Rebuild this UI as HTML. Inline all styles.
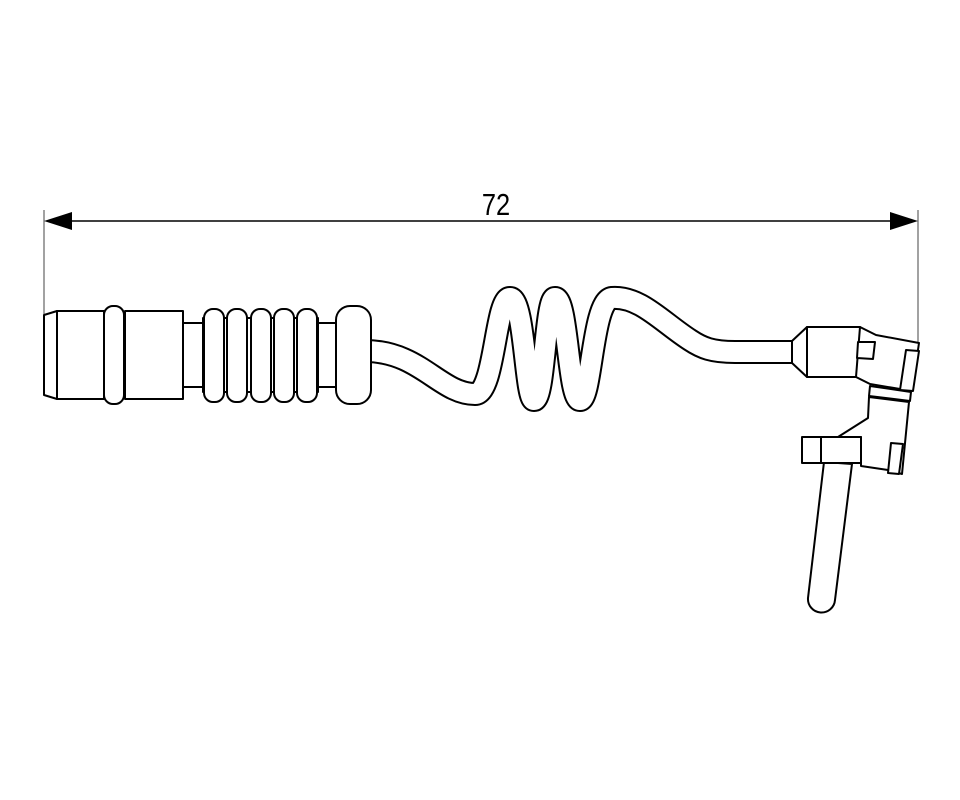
<!DOCTYPE html>
<html><head><meta charset="utf-8"><style>html,body{margin:0;padding:0;background:#fff}svg{display:block}</style></head>
<body>
<svg width="960" height="800" viewBox="0 0 960 800" xmlns="http://www.w3.org/2000/svg">
<g fill="none" stroke="#000" stroke-width="1">
<line x1="44" y1="210" x2="44" y2="314" stroke="#444"/>
<line x1="918" y1="210" x2="918" y2="344" stroke="#444"/>
<line x1="50" y1="221" x2="912" y2="221" stroke-width="1.5"/>
</g>
<polygon points="44,221 72,212 72,230" fill="#000"/>
<polygon points="918,221 890,212 890,230" fill="#000"/>
<text x="0" y="0" font-family="Liberation Sans, sans-serif" font-size="31" text-anchor="middle" transform="translate(496,215) scale(0.82,1)">72</text>

<!-- cable -->
<path d="M365,351 C420,351 440,394 475,394 C495,394 495,298 510,298 C525,298 525,400 534,400 C545,400 545,298 555,298 C568,298 568,400 580,400 C592,400 592,300 612,298 C640,296 662,322 690,340 C702,348 712,352 735,352 L796,352" fill="none" stroke="#000" stroke-width="24"/>
<path d="M365,351 C420,351 440,394 475,394 C495,394 495,298 510,298 C525,298 525,400 534,400 C545,400 545,298 555,298 C568,298 568,400 580,400 C592,400 592,300 612,298 C640,296 662,322 690,340 C702,348 712,352 735,352 L796,352" fill="none" stroke="#fff" stroke-width="20"/>

<g fill="#fff" stroke="#000" stroke-width="2" stroke-linejoin="round">
<!-- left connector -->
<polygon points="44,315 57,311 57,399 44,395"/>
<rect x="57" y="311" width="47" height="88"/>
<rect x="104" y="306" width="20" height="98" rx="9"/>
<rect x="125" y="311" width="58" height="88"/>
<rect x="183" y="323" width="20" height="64"/>
<rect x="203" y="318" width="115" height="74"/>
<rect x="204" y="309" width="20" height="93" rx="9"/>
<rect x="227" y="309" width="20" height="93" rx="9"/>
<rect x="251" y="309" width="20" height="93" rx="9"/>
<rect x="274" y="309" width="20" height="93" rx="9"/>
<rect x="297" y="309" width="20" height="93" rx="9"/>
<rect x="318" y="323" width="18" height="64"/>
<rect x="336" y="306" width="35" height="98" rx="14"/>

<!-- right sensor -->
<polygon points="792,341 807,327 807,377 792,363"/>
<rect x="807" y="327" width="53" height="50"/>
<polygon points="860,327 876,335 919,343 912,391 870,384 856,377"/>
<polygon points="858,342 875,342 873,359 857,358"/>
<polygon points="906,350 919,351 913,391 900,390"/>
<polygon points="870,386 911,392 910,401 869,396"/>
<polygon points="869,397 909,402 902,474 888,470 861,466 861,437 838,437 868,418"/>
<polygon points="891,443 903,444 899,474 888,473"/>
<path d="M824,462 L808,598 A13,13 0 0 0 835,600 L852,464 Z"/>
<rect x="802" y="437" width="59" height="26"/>
<line x1="821" y1="437" x2="821" y2="463"/>
</g>
</svg>
</body></html>
